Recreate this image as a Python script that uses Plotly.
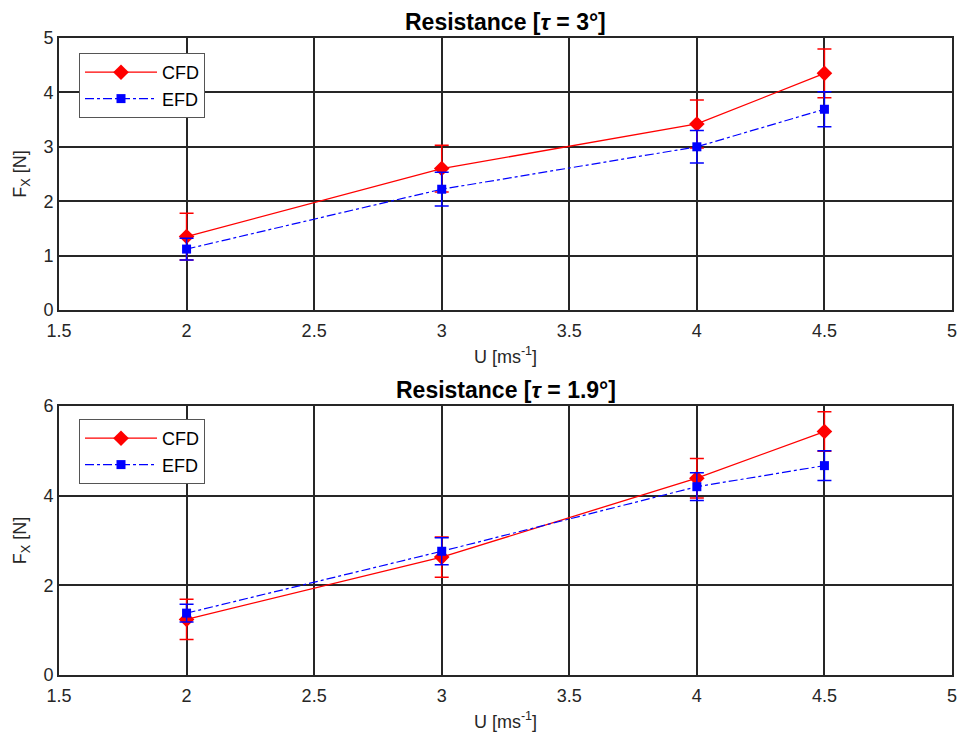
import plotly.graph_objects as go

U = [2, 3, 4, 4.5]

# tau = 3 deg
cfd_3 = [1.35, 2.60, 3.42, 4.35]
cfd_3_err = [0.43, 0.43, 0.44, 0.45]
efd_3 = [1.12, 2.22, 3.00, 3.69]
efd_3_err = [0.20, 0.31, 0.30, 0.32]

# tau = 1.9 deg
cfd_19 = [1.24, 2.63, 4.39, 5.43]
cfd_19_err = [0.45, 0.45, 0.44, 0.44]
efd_19 = [1.38, 2.76, 4.20, 4.67]
efd_19_err = [0.20, 0.30, 0.31, 0.33]

x_ticks = [1.5, 2, 2.5, 3, 3.5, 4, 4.5, 5]

W, H = 960, 738
L, R, T = 59, 8, 38
B = H - 675
ph = H - T - B
pw = W - L - R

def py(p):
    return (H - B - p) / ph

def px(p):
    return (p - L) / pw

fig = go.Figure()

def add_pair(cfd, cerr, efd, eerr, xa, ya, leg):
    fig.add_trace(go.Scatter(
        x=U, y=cfd, name="CFD", mode="lines+markers",
        line=dict(color="#ff0000", width=1.3),
        marker=dict(symbol="diamond", size=12, color="#ff0000"),
        error_y=dict(type="data", array=cerr, visible=True, color="#ff0000", thickness=1.5, width=7),
        xaxis=xa, yaxis=ya, legend=leg))
    fig.add_trace(go.Scatter(
        x=U, y=efd, name="EFD", mode="lines+markers",
        line=dict(color="#0000ff", width=1.2, dash="dashdot"),
        marker=dict(symbol="square", size=9, color="#0000ff"),
        error_y=dict(type="data", array=eerr, visible=True, color="#0000ff", thickness=1.5, width=7),
        xaxis=xa, yaxis=ya, legend=leg))

add_pair(cfd_3, cfd_3_err, efd_3, efd_3_err, "x", "y", "legend")
add_pair(cfd_19, cfd_19_err, efd_19, efd_19_err, "x2", "y2", "legend2")

axfont = dict(family="Liberation Sans, Arial", size=18, color="#262626")
labfont = dict(family="Liberation Sans, Arial", size=18, color="#262626")
common_x = dict(range=[1.5, 5], tickvals=x_ticks, ticktext=[str(v) for v in x_ticks],
                showgrid=True, gridcolor="#262626", gridwidth=1.6,
                showline=True, linecolor="#262626", linewidth=1.6, mirror=True,
                ticks="inside", ticklen=5, tickcolor="#262626",
                tickfont=axfont, zeroline=False, automargin=False,
                ticklabeloverflow="allow", ticklabelstandoff=4,
                title=dict(text="U [ms<sup>-1</sup>]", font=labfont, standoff=10))
common_y = dict(showgrid=True, gridcolor="#262626", gridwidth=1.6,
                showline=True, linecolor="#262626", linewidth=1.6, mirror=True,
                ticks="inside", ticklen=5, tickcolor="#262626",
                tickfont=axfont, zeroline=False, automargin=False,
                ticklabeloverflow="allow",
                title=dict(text="F<sub>X</sub> [N]", font=labfont, standoff=12))

legbase = dict(x=px(79), xanchor="left", yanchor="top",
               bgcolor="white", bordercolor="#555555", borderwidth=1,
               font=dict(family="Liberation Sans, Arial", size=18, color="black"),
               itemwidth=72, tracegroupgap=0)

fig.update_layout(
    width=W, height=H,
    margin=dict(l=L, r=R, t=T, b=B),
    paper_bgcolor="white", plot_bgcolor="white",
    showlegend=True,
    xaxis=dict(**common_x, domain=[0, 1], anchor="y"),
    yaxis=dict(**common_y, domain=[py(310), 1], range=[0, 5], tickvals=[0, 1, 2, 3, 4, 5], anchor="x"),
    xaxis2=dict(**common_x, domain=[0, 1], anchor="y2"),
    yaxis2=dict(**common_y, domain=[0, py(406)], range=[0, 6], tickvals=[0, 2, 4, 6], anchor="x2"),
    legend=dict(**legbase, y=py(53)),
    legend2=dict(**legbase, y=py(419)),
)

titlefont = dict(family="Liberation Sans, Arial", size=23, color="black")
fig.add_annotation(text="<b>Resistance [<i>τ</i> = 3°]</b>", x=0.5, xref="paper",
                   y=py(22), yref="paper", showarrow=False, font=titlefont, yanchor="middle")
fig.add_annotation(text="<b>Resistance [<i>τ</i> = 1.9°]</b>", x=0.5, xref="paper",
                   y=py(390), yref="paper", showarrow=False, font=titlefont, yanchor="middle")

fig.write_html("out.html",
               config={"displayModeBar": False},
               post_script="document.body.style.margin='0';document.body.style.overflow='hidden';")
